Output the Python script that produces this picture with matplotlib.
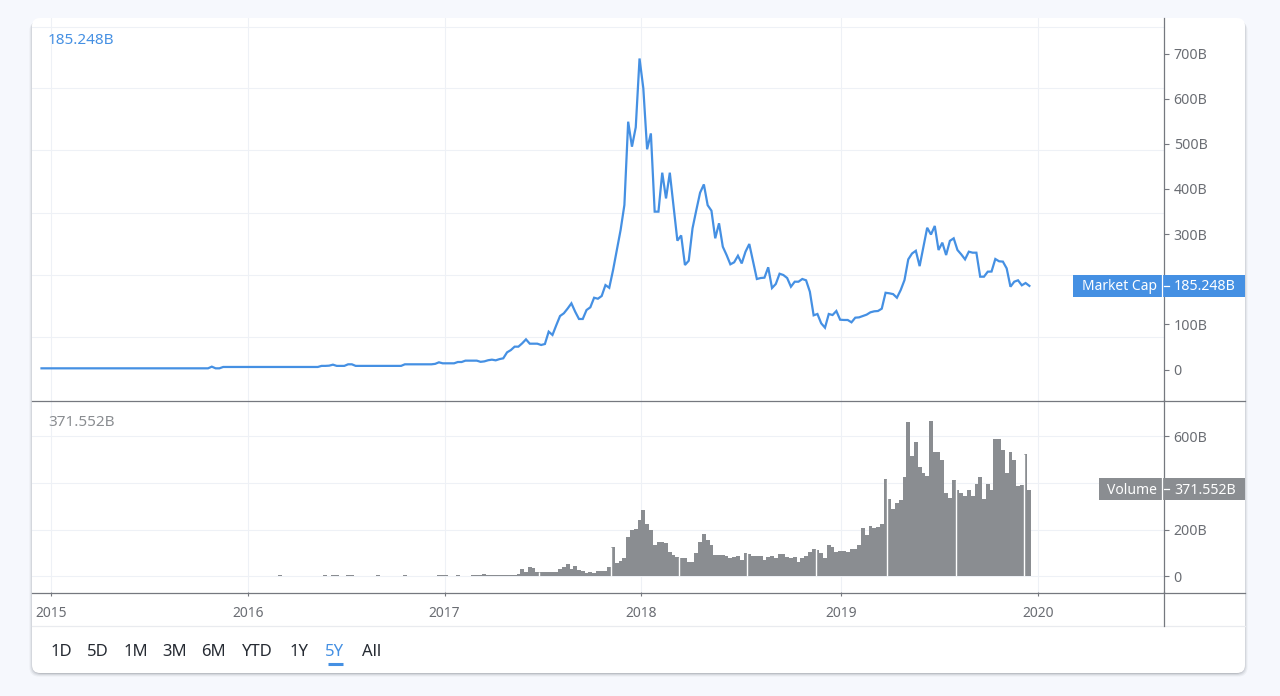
import matplotlib
matplotlib.use("Agg")
import matplotlib.pyplot as plt
from matplotlib.patches import FancyBboxPatch, Rectangle
import numpy as np

plt.rcParams['font.family'] = ['Noto Sans', 'DejaVu Sans']

# weekly market cap, billions
market_cap = [
 2.6,2.6,2.6,2.6,2.6,2.6,2.6,2.6,2.6,2.6,2.6,2.6,2.6,2.6,2.6,
 2.6,2.6,2.6,2.6,2.6,2.6,2.6,2.6,2.6,2.6,2.6,2.6,2.6,2.6,2.6,
 2.6,2.6,2.6,2.6,2.6,2.6,2.6,2.6,2.6,2.6,2.6,2.6,2.6,2.6,2.6,
 6.3,2.6,2.6,
 5.6,5.6,5.6,5.6,5.6,5.6,5.6,5.6,5.6,5.6,5.6,5.6,5.6,
 5.6,5.6,5.6,5.6,5.6,5.6,5.6,5.6,5.6,5.6,5.6,5.6,5.6,
 8,8,8.5,10.7,8,8,8,11.5,11.5,
 8,8,8,8,8,8,8,8,8,8,8,8,8,
 11.5,11.5,11.5,11.5,11.5,11.5,11.5,11.5,
 12.5,15.9,13.7,13.7,13.7,13.7,16.6,16.6,19.6,19.6,19.6,19.6,
 17,18,20.5,21.8,20.3,23,24.8,38,43,50.6,50.6,58,66.8,57.2,57.2,57.2,54.3,56.5,
 83.8,76.5,98,118.5,124.5,135,146.6,128,111.9,111.9,131.8,137.8,159,156.8,162.8,
 187,181,220,264.7,309,364.4,549,493.6,536.5,689,623,487.8,523,349.7,349.7,
 436,379,436,360.7,285.4,297,231.5,241,312.7,353,391.7,410,364,351.8,290.6,
 323.9,272,253.6,233,237.5,252,235,261,278,238.9,200.5,202.7,203.4,226.4,180.5,
 189.4,212.2,209.3,202.7,183.4,194.5,194.5,200.5,197.6,172.4,120,123,102.3,92.6,123,
 120.7,129.6,110.3,109.7,109.7,104.5,114.8,115.5,118.5,121.5,126.7,128.9,129.6,134.8,170,
 168.8,167,159,176,198,244,257,263,229,272,314,299,318,264.7,281,
 253.6,285,290.6,264.7,255,244,261,258.8,258.8,205.6,205.6,216.7,217,244.8,239.7,
 239,224,183.4,194.5,197.6,186.5,191.6,185.248,
]

# weekly volume, billions
volume = [
 0,0,0,0,0,0,0,0,0,0,0,0,0,0,0,
 0,0,0,0,0,0,0,0,0,0,0,0,0,0,0,
 0,0,0,0,0,0,0,0,0,0,0,0,0,0,0,
 0,0,0,0,0,0,0,0,0,0,0,0,0,0,0,
 0,0,0,5,0,0,0,0,0,0,0,0,0,0,0,
 5,0,5,5,0,0,5,5,0,0,0,0,0,0,5,
 0,0,0,0,0,0,5,0,0,0,0,0,0,0,0,
 5,5,5,0,0,5,0,0,0,5,5,5,
 8.5,5,5,5,5,5,5,5,7,11,30,20,40,36,20,
 20,20,20,20,20,30,40,51,30,46,26,24,16,20,16,
 24,24,24,41,126,57,67,79,168,198,203,242,284,226,198,
 133,147,147,141,104,92,82,77,77,61,61,98,147,183,157,
 135,93,93,92,85,77,83,87,71,98,97,88,88,88,71,
 83,88,77,97,97,82,78,82,61,77,88,105,119,113,99,
 77,134,124,104,107,107,103,119,119,134,205,178,215,208,211,
 225,416,332,289,315,326,426,660,517,574,470,442,431,664.5,532,
 532,496,358,336,412,369,358,342,369,342,396,426,332,396,369,
 587,587,539,442,532,496,385,390.5,523,371.552,
]

years = ['2015', '2016', '2017', '2018', '2019', '2020']
year_weeks = [2.5, 54.5, 106.5, 158.5, 211.3, 263.3]
cap_ticks = [0, 100, 200, 300, 400, 500, 600, 700]
cap_grid = [72, 209.3, 346.7, 486, 623.6, 758.7]
vol_ticks = [0, 200, 400, 600]
gap_after = [131, 150, 168, 186, 204, 223, 241, 259]
ranges = ['1D', '5D', '1M', '3M', '6M', 'YTD', '1Y', '5Y', 'All']
range_x = [61, 98, 136, 175, 213, 257, 299, 335, 372]

BLUE = '#4590e3'
GRAY = '#8a8d91'
GRID = '#eef1f6'
AXIS = '#75787f'
TXT = '#6a6d73'

W, H = 1280, 696
fig = plt.figure(figsize=(W/100, H/100), dpi=100, facecolor='#f6f8fd')

def px_axes(x0, y0, x1, y1, **kw):
    return fig.add_axes([x0/W, 1-y1/H, (x1-x0)/W, (y1-y0)/H], **kw)

# page overlay in pixel coordinates, behind the panes
bg = px_axes(0, 0, W, H, zorder=0)
bg.set_xlim(0, W); bg.set_ylim(H, 0); bg.axis('off')
for off, a in [(3.5, .05), (2.5, .07), (1.5, .10), (.7, .14)]:
    bg.add_patch(FancyBboxPatch((32-off+1, 18+off), 1213+2*off-2, 655, boxstyle='round,pad=0,rounding_size=9',
                                fc='#30353f', ec='none', alpha=a))
bg.add_patch(FancyBboxPatch((32, 18), 1213, 655, boxstyle='round,pad=0,rounding_size=8', fc='white', ec='none'))

x_left = (32-41.5)/3.785
x_right = (1164-41.5)/3.785

ax = px_axes(32, 18, 1164, 400, zorder=2)
vx = px_axes(32, 400, 1164, 592, zorder=2)
for a in (ax, vx):
    a.patch.set_alpha(0)
    a.set_xlim(x_left, x_right)
    for s in ('top', 'left', 'bottom'):
        a.spines[s].set_visible(False)
    a.spines['right'].set_color(AXIS)
    a.spines['right'].set_linewidth(.9)
    a.yaxis.tick_right()
    a.tick_params(axis='y', length=3.6, width=.8, color=AXIS, labelcolor=TXT, labelsize=10.2, pad=3.4)
    a.set_xticks(year_weeks)
    for w in year_weeks:
        a.axvline(w, color=GRID, lw=.8, zorder=0)

ax.set_ylim((369.5-400)/.4514, (369.5-18)/.4514)
vx.set_ylim((576.3-592)/.2335, (576.3-400)/.2335)

for v in cap_grid:
    ax.axhline(v, color=GRID, lw=.8, zorder=0)
for v in vol_ticks:
    vx.axhline(v, color=GRID, lw=.8, zorder=0)

weeks = np.arange(len(market_cap))
ax.plot(weeks, market_cap, color=BLUE, lw=1.6, solid_joinstyle='miter', zorder=3)
vweeks = np.arange(len(volume))
vx.bar(vweeks, volume, width=1.0, color=GRAY, lw=0, zorder=3)
for k in gap_after:
    vx.vlines(k+0.5, 0, max(volume[k], volume[k+1]), color='white', lw=1.0, zorder=4)

ax.set_yticks(cap_ticks)
ax.set_yticklabels(['0' if t == 0 else f'{t}B' for t in cap_ticks])
ax.tick_params(axis='x', length=0, labelbottom=False)
vx.set_yticks(vol_ticks)
vx.set_yticklabels(['0' if t == 0 else f'{t}B' for t in vol_ticks])
vx.set_xticklabels(years)
vx.tick_params(axis='x', length=3, width=.8, color=AXIS, labelcolor=TXT, labelsize=10, pad=7.2)

# overlay above panes
top = px_axes(0, 0, W, H, zorder=5)
top.set_xlim(0, W); top.set_ylim(H, 0); top.axis('off'); top.patch.set_alpha(0)
top.plot([32, 1245], [400.5, 400.5], color=AXIS, lw=.9)
top.plot([32, 1245], [592.5, 592.5], color=AXIS, lw=.9)
top.plot([1163.5, 1163.5], [592, 626], color=AXIS, lw=.9)
top.plot([32, 1245], [626, 626], color='#e9ebef', lw=.9, zorder=0)

def tag(y, x0, title, value, color):
    top.add_patch(Rectangle((x0, y-11), 1245-x0, 22, fc=color, ec='none'))
    top.plot([1162, 1162], [y-11, y+11], color='white', lw=.9)
    top.plot([1164, 1169], [y, y], color='white', lw=.9)
    top.text(1157, y+1, title, color='white', ha='right', va='center', fontsize=10)
    top.text(1174, y+1, value, color='white', ha='left', va='center', fontsize=10.2)

tag(286, 1072.5, 'Market Cap', '185.248B', BLUE)
tag(489, 1099, 'Volume', '371.552B', GRAY)

top.text(48, 40, '185.248B', color=BLUE, fontsize=11, ha='left', va='center')
top.text(48, 423, '371.552B', color=GRAY, fontsize=11, ha='left', va='center')

for lab, x in zip(ranges, range_x):
    top.text(x, 652, lab, color=BLUE if lab == '5Y' else '#262b33', fontsize=12, ha='center', va='center')
top.plot([328, 343], [664, 664], color=BLUE, lw=2.2, solid_capstyle='butt')

fig.savefig('out.png', dpi=100, facecolor=fig.get_facecolor())
